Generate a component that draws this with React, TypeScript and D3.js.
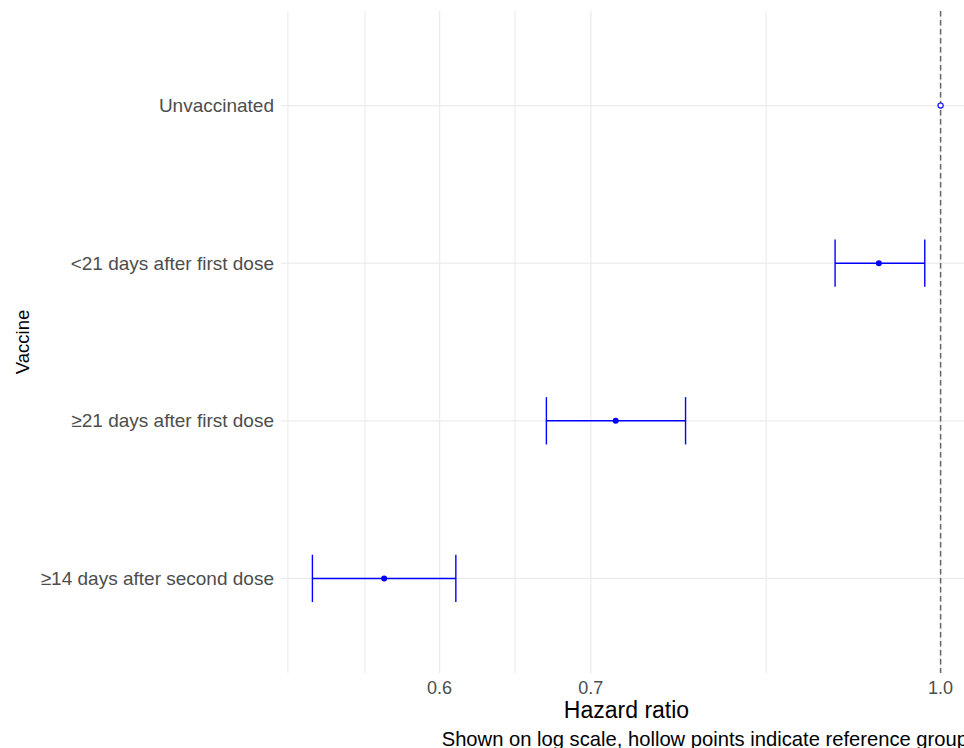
import React from "react";
import * as d3 from "d3";

// Hazard ratios by vaccination status (log scale)
const groups = [
  "Unvaccinated",
  "<21 days after first dose",
  "≥21 days after first dose",
  "≥14 days after second dose",
];
const estimates = [1.0, 0.939, 0.718, 0.567];
const lowerCI = [1.0, 0.898, 0.669, 0.527];
const upperCI = [1.0, 0.984, 0.771, 0.61];
const isReference = [true, false, false, false];

const xBreaks = [0.6, 0.7, 1.0];
const xMinorBreaks = [0.514, 0.556, 0.648, 0.837];
const xBreakLabels = ["0.6", "0.7", "1.0"];

const W = 964;
const H = 748;
const panel = { left: 281, right: 972, top: 11, bottom: 673 };

export default function App() {
  const allVals = [...lowerCI, ...upperCI, ...estimates];
  const lnMin = Math.log(d3.min(allVals) as number);
  const lnMax = Math.log(d3.max(allVals) as number);
  const pad = 0.05 * (lnMax - lnMin);

  const x = d3
    .scaleLog()
    .domain([Math.exp(lnMin - pad), Math.exp(lnMax + pad)])
    .range([panel.left, panel.right]);

  const y = d3
    .scalePoint<string>()
    .domain(groups)
    .range([panel.top, panel.bottom])
    .padding(0.6);

  const capHalf = y.step() * 0.15;
  const grid = "#ebebeb";
  const blue = "#0000ff";

  return (
    <svg
      width={W}
      height={H}
      style={{ position: "fixed", left: 0, top: 0, background: "#fff" }}
      fontFamily="'Liberation Sans', Arial, Helvetica, sans-serif"
    >
      {/* minor vertical grid */}
      {xMinorBreaks.map((v, i) => (
        <line
          key={"mn" + i}
          x1={x(v)}
          x2={x(v)}
          y1={panel.top}
          y2={panel.bottom}
          stroke={grid}
          strokeWidth={1.1}
        />
      ))}
      {/* major vertical grid */}
      {xBreaks.map((v, i) => (
        <line
          key={"mj" + i}
          x1={x(v)}
          x2={x(v)}
          y1={panel.top}
          y2={panel.bottom}
          stroke={grid}
          strokeWidth={1.3}
        />
      ))}
      {/* horizontal grid per group */}
      {groups.map((g) => (
        <line
          key={"h" + g}
          x1={panel.left}
          x2={panel.right}
          y1={y(g)}
          y2={y(g)}
          stroke={grid}
          strokeWidth={1.3}
        />
      ))}

      {/* reference line at HR = 1 */}
      <line
        x1={x(1)}
        x2={x(1)}
        y1={panel.top}
        y2={panel.bottom}
        stroke="#666666"
        strokeWidth={1.5}
        strokeDasharray="5.5 3.5"
      />

      {/* error bars and points */}
      {groups.map((g, i) => {
        const cy = y(g) as number;
        if (isReference[i]) {
          return (
            <circle
              key={"p" + g}
              cx={x(estimates[i])}
              cy={cy}
              r={2.6}
              fill="#fff"
              stroke={blue}
              strokeWidth={1.1}
            />
          );
        }
        const xl = x(lowerCI[i]);
        const xu = x(upperCI[i]);
        return (
          <g key={"p" + g}>
            <line x1={xl} x2={xu} y1={cy} y2={cy} stroke={blue} strokeWidth={1.4} />
            <line x1={xl} x2={xl} y1={cy - capHalf} y2={cy + capHalf} stroke={blue} strokeWidth={1.4} />
            <line x1={xu} x2={xu} y1={cy - capHalf} y2={cy + capHalf} stroke={blue} strokeWidth={1.4} />
            <circle cx={x(estimates[i])} cy={cy} r={3} fill={blue} />
          </g>
        );
      })}

      {/* y axis labels */}
      {groups.map((g) => (
        <text
          key={"yl" + g}
          x={panel.left - 7}
          y={(y(g) as number) + 6.5}
          textAnchor="end"
          fontSize={19}
          fill="#4d4d4d"
        >
          {g}
        </text>
      ))}

      {/* x axis labels */}
      {xBreaks.map((v, i) => (
        <text
          key={"xl" + i}
          x={x(v)}
          y={694}
          textAnchor="middle"
          fontSize={18}
          fill="#4d4d4d"
        >
          {xBreakLabels[i]}
        </text>
      ))}

      {/* axis titles */}
      <text
        x={(panel.left + panel.right) / 2}
        y={718}
        textAnchor="middle"
        fontSize={23}
        fill="#000"
      >
        Hazard ratio
      </text>
      <text
        transform={`translate(29, ${(panel.top + panel.bottom) / 2}) rotate(-90)`}
        textAnchor="middle"
        fontSize={18.5}
        fill="#000"
      >
        Vaccine
      </text>

      {/* caption */}
      <text x={panel.right - 4} y={745.5} textAnchor="end" fontSize={20.2} fill="#000">
        Shown on log scale, hollow points indicate reference group
      </text>
    </svg>
  );
}
